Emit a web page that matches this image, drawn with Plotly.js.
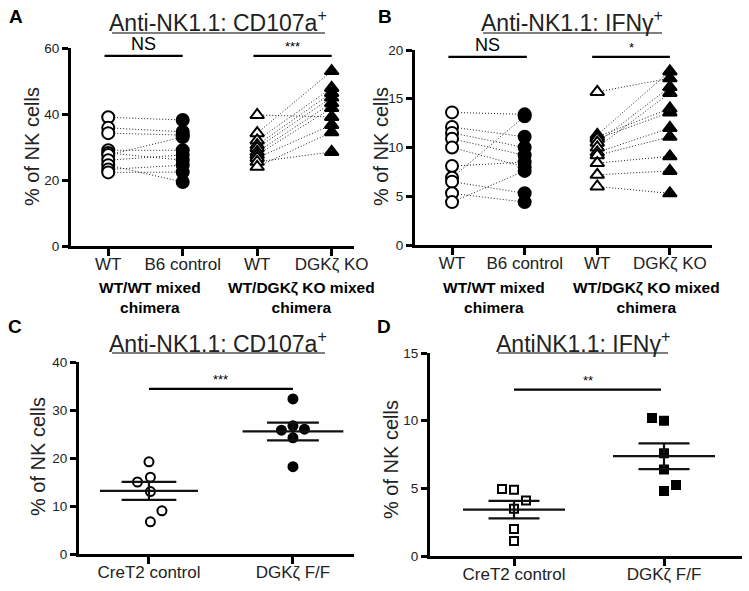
<!DOCTYPE html>
<html><head><meta charset="utf-8">
<script src="https://cdn.plot.ly/plotly-3.0.1.min.js"></script>
<style>html,body{margin:0;padding:0;background:#fff}</style>
</head><body><div id="chart" style="width:749px;height:591px"></div>
<script>
// ---- data ----
const tickLabelsAB = ['WT', 'B6 control', 'WT', 'DGKζ KO'];
const groupLabels = ['WT/WT mixed<br>chimera', 'WT/DGKζ KO mixed<br>chimera'];
const tickLabelsCD = ['CreT2 control', 'DGKζ F/F'];
const titles = ['Anti-NK1.1: CD107a<sup>+</sup>', 'Anti-NK1.1: IFNγ<sup>+</sup>', 'Anti-NK1.1: CD107a<sup>+</sup>', 'AntiNK1.1: IFNγ<sup>+</sup>'];
const yTitle = '% of NK cells';
const panelLetters = ['A', 'B', 'C', 'D'];
const sigA = ['NS', '***'];
const sigB = ['NS', '*'];
const sigC = '***';
const sigD = '**';

// Panel A (paired)
const aWT1 = [39.0, 35.8, 34.2, 29.0, 28.2, 27.6, 26.0, 24.5, 23.2, 22.3];
const aB6  = [38.2, 34.6, 33.6, 29.0, 26.0, 33.0, 27.6, 19.4, 24.5, 22.4];
const aWT2 = [39.7, 34.2, 32.0, 30.6, 29.7, 28.5, 27.6, 26.7, 25.5, 24.0];
const aKO  = [39.1, 53.0, 47.9, 46.4, 45.0, 43.3, 41.8, 36.7, 28.5, 34.5];
// Panel B (paired)
const bWT1 = [13.6, 12.1, 11.5, 10.9, 10.0, 8.1, 6.9, 6.5, 5.3, 4.4];
const bB6  = [13.4, 11.1, 10.0, 9.2, 8.0, 8.5, 13.2, 5.3, 4.4, 7.6];
const bWT2 = [15.7, 11.3, 11.1, 10.9, 10.5, 10.0, 9.5, 9.2, 8.4, 7.2, 6.0];
const bKO  = [17.1, 17.8, 14.0, 13.6, 16.2, 15.6, 12.0, 11.1, 9.1, 7.6, 5.3];
// Panel C
const cCtrl = [19.2, 16.0, 15.0, 13.0, 9.0, 6.7];
const cFF   = [32.3, 26.7, 26.0, 25.8, 24.2, 18.2];
// Panel D
const dCtrl = [4.95, 4.9, 4.1, 3.5, 2.0, 1.1];
const dFF   = [10.2, 10.0, 7.6, 6.4, 5.25, 4.8];

// ---- helpers ----
const W = 749, H = 591;
const px = x => x / W, py = y => 1 - y / H;
const FONT = 'Liberation Sans, Arial, sans-serif';
// horizontal jitter (style only)
const jitC1 = [0, 0.01, -0.08, 0.01, 0.09, 0.01];
const jitC2 = [0, 0, 0.08, -0.08, 0, 0];
const jitD1 = [-0.08, 0, 0.08, 0, 0, 0];
const jitD2 = [-0.08, 0, 0, 0, 0.08, 0];

function pairLines(y1, y2, x1, x2, xa, ya) {
  const xs = [], ys = [];
  y1.forEach((v, i) => { xs.push(x1, x2, null); ys.push(v, y2[i], null); });
  return {x: xs, y: ys, xaxis: xa, yaxis: ya, mode: 'lines', type: 'scatter',
    line: {color: '#222', width: 1, dash: '1px,2px'}, hoverinfo: 'skip', cliponaxis: false};
}
function pts(vals, xpos, xa, ya, symbol, size, filled, jit) {
  return {x: vals.map((v, i) => xpos + (jit ? jit[i] : 0)), y: vals, xaxis: xa, yaxis: ya,
    mode: 'markers', type: 'scatter', cliponaxis: false,
    marker: {symbol: symbol, size: size, color: filled ? '#000' : '#fff', line: {color: '#000', width: 2}}};
}
function meanSem(vals, xpos, xa, ya, hwMean, hwSem) {
  const n = vals.length;
  const m = vals.reduce((a, b) => a + b, 0) / n;
  const sd = Math.sqrt(vals.reduce((a, b) => a + (b - m) * (b - m), 0) / (n - 1));
  const se = sd / Math.sqrt(n);
  return {x: [xpos - hwMean, xpos + hwMean, null, xpos - hwSem, xpos + hwSem, null, xpos - hwSem, xpos + hwSem, null, xpos, xpos],
    y: [m, m, null, m + se, m + se, null, m - se, m - se, null, m - se, m + se],
    xaxis: xa, yaxis: ya, mode: 'lines', type: 'scatter', line: {color: '#111', width: 2.2}, hoverinfo: 'skip'};
}

const traces = [
  pairLines(aWT1, aB6, 0, 1, 'x', 'y'),
  pairLines(aWT2, aKO, 2, 3, 'x', 'y'),
  pts(aWT1, 0, 'x', 'y', 'circle', 12, false),
  pts(aB6, 1, 'x', 'y', 'circle', 12, true),
  pts(aWT2, 2, 'x', 'y', 'triangle-up', 12, false),
  pts(aKO, 3, 'x', 'y', 'triangle-up', 12, true),
  pairLines(bWT1, bB6, 0, 1, 'x2', 'y2'),
  pairLines(bWT2, bKO, 2, 3, 'x2', 'y2'),
  pts(bWT1, 0, 'x2', 'y2', 'circle', 12, false),
  pts(bB6, 1, 'x2', 'y2', 'circle', 12, true),
  pts(bWT2, 2, 'x2', 'y2', 'triangle-up', 12, false),
  pts(bKO, 3, 'x2', 'y2', 'triangle-up', 12, true),
  pts(cCtrl, 0, 'x3', 'y3', 'circle', 9, false, jitC1),
  pts(cFF, 1, 'x3', 'y3', 'circle', 9, true, jitC2),
  meanSem(cCtrl, 0, 'x3', 'y3', 0.34, 0.19),
  meanSem(cFF, 1, 'x3', 'y3', 0.35, 0.18),
  pts(dCtrl, 0, 'x4', 'y4', 'square', 8, false, jitD1),
  pts(dFF, 1, 'x4', 'y4', 'square', 8, true, jitD2),
  meanSem(dCtrl, 0, 'x4', 'y4', 0.34, 0.17),
  meanSem(dFF, 1, 'x4', 'y4', 0.34, 0.17)
];

const axBase = {showline: true, linewidth: 3, linecolor: '#000', ticks: 'outside', tickwidth: 3,
  tickcolor: '#000', showgrid: false, zeroline: false, fixedrange: true};
function xAx(dom, range, ticktext, anchor) {
  return Object.assign({}, axBase, {domain: dom, range: range, anchor: anchor, tickmode: 'array',
    tickvals: ticktext.map((t, i) => i), ticktext: ticktext, ticklen: 7, ticklabelstandoff: -6,
    tickfont: {family: FONT, size: 17, color: '#222'}});
}
function yAx(dom, range, dtick, anchor) {
  return Object.assign({}, axBase, {domain: dom, range: range, anchor: anchor, dtick: dtick, ticklen: 6,
    tickfont: {family: FONT, size: 13.5, color: '#222'}});
}

const annotations = [];
const shapes = [];
function addTitle(text, xc, yc, x0, x1, yu) {
  annotations.push({text: text, x: px(xc), y: py(yc), xref: 'paper', yref: 'paper',
    xanchor: 'center', yanchor: 'middle', showarrow: false, font: {family: FONT, size: 23, color: '#222'}});
  shapes.push({type: 'line', xref: 'paper', yref: 'paper', x0: px(x0), x1: px(x1), y0: py(yu), y1: py(yu),
    line: {color: '#555', width: 1.5}});
}
function addYTitle(x, y) {
  annotations.push({text: yTitle, x: px(x), y: py(y), xref: 'paper', yref: 'paper', textangle: -90,
    xanchor: 'center', yanchor: 'middle', showarrow: false, font: {family: FONT, size: 20, color: '#222'}});
}
function addLetter(t, x, y) {
  annotations.push({text: '<b>' + t + '</b>', x: px(x), y: py(y), xref: 'paper', yref: 'paper',
    xanchor: 'left', yanchor: 'middle', showarrow: false, font: {family: FONT, size: 19, color: '#000'}});
}
function addGroup(t, x, y) {
  annotations.push({text: '<b>' + t + '</b>', x: px(x), y: py(y), xref: 'paper', yref: 'paper',
    xanchor: 'center', yanchor: 'top', showarrow: false, font: {family: FONT, size: 15.5, color: '#000'}});
}
function addSig(t, x0, x1, yv, xa, ya, size) {
  shapes.push({type: 'line', xref: xa, yref: ya, x0: x0, x1: x1, y0: yv, y1: yv, line: {color: '#000', width: 2.2}});
  annotations.push({text: t, x: (x0 + x1) / 2, y: yv, xref: xa, yref: ya, xanchor: 'center', yanchor: 'bottom',
    showarrow: false, font: {family: FONT, size: size, color: '#000'}});
}

addTitle(titles[0], 218, 21, 112, 325, 33);
addTitle(titles[1], 572, 21, 483, 662, 33);
addTitle(titles[2], 218, 342, 112, 325, 353);
addTitle(titles[3], 583, 342, 498, 668, 353);
addYTitle(32, 147);
addYTitle(381, 147);
addYTitle(38, 457);
addYTitle(391, 460);
addLetter(panelLetters[0], 7, 16);
addLetter(panelLetters[1], 376, 16);
addLetter(panelLetters[2], 6, 326);
addLetter(panelLetters[3], 375, 326);
addGroup(groupLabels[0], 150, 277);
addGroup(groupLabels[1], 301, 277);
addGroup(groupLabels[0], 494, 277);
addGroup(groupLabels[1], 646, 277);
addSig(sigA[0], -0.05, 1.0, 57.6, 'x', 'y', 18);
addSig(sigA[1], 1.95, 3.0, 57.6, 'x', 'y', 13);
addSig(sigB[0], -0.05, 1.03, 19.3, 'x2', 'y2', 18);
addSig(sigB[1], 1.93, 3.0, 19.3, 'x2', 'y2', 13);
addSig(sigC, 0, 1.0, 34.4, 'x3', 'y3', 13);
addSig(sigD, 0, 0.98, 12.3, 'x4', 'y4', 13);

const layout = {
  width: W, height: H, margin: {l: 0, r: 0, t: 0, b: 0}, showlegend: false,
  paper_bgcolor: '#fff', plot_bgcolor: '#fff',
  xaxis: xAx([px(71), px(354)], [-0.5, 3.3], tickLabelsAB, 'y'),
  yaxis: yAx([py(246), py(48)], [0, 60], 20, 'x'),
  xaxis2: xAx([px(415), px(712)], [-0.51, 3.58], tickLabelsAB, 'y2'),
  yaxis2: yAx([py(245), py(50)], [0, 20], 5, 'x2'),
  xaxis3: xAx([px(79), px(354)], [-0.486, 1.424], tickLabelsCD, 'y3'),
  yaxis3: yAx([py(554), py(362)], [0, 40], 10, 'x3'),
  xaxis4: xAx([px(430), px(742)], [-0.56, 1.52], tickLabelsCD, 'y4'),
  yaxis4: yAx([py(556), py(353)], [0, 15], 5, 'x4'),
  annotations: annotations, shapes: shapes
};

Plotly.newPlot('chart', traces, layout, {displayModeBar: false, staticPlot: true});
</script></body></html>
